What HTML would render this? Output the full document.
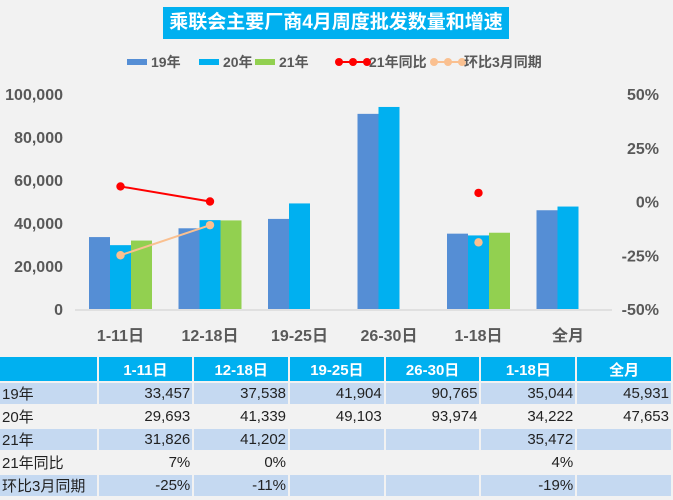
<!DOCTYPE html>
<html><head><meta charset="utf-8"><style>
body{margin:0;width:673px;height:500px;background:#f2f2f2;font-family:"Liberation Sans","Noto Sans CJK SC",sans-serif;overflow:hidden;position:relative}
#title{position:absolute;left:163px;top:7px;width:346px;height:32px;background:#00b0f0;color:#fff;font-weight:bold;font-size:19px;line-height:32px;text-align:center;white-space:nowrap}
table{position:absolute;left:0;top:355px;border-collapse:separate;border-spacing:2px;margin-left:-2px;font-size:15px}
td{height:21px;padding:0 2px;text-align:right;background:#c5d9f1;color:#222}
tr.w td{background:#f2f2f2}
tr.h td{background:#00b0f0;color:#fff;font-weight:bold;text-align:center;height:24px}
td.l{text-align:left;width:93px}
td.c{width:90px}
</style></head><body>
<div id="title">乘联会主要厂商4月周度批发数量和增速</div>
<svg id="chart" width="673" height="355" style="position:absolute;left:0;top:0"></svg>
<table>
<tr class="h"><td class="l"></td><td class="c">1-11日</td><td class="c">12-18日</td><td class="c">19-25日</td><td class="c">26-30日</td><td class="c">1-18日</td><td class="c">全月</td></tr>
<tr><td class="l">19年</td><td>33,457</td><td>37,538</td><td>41,904</td><td>90,765</td><td>35,044</td><td>45,931</td></tr>
<tr class="w"><td class="l">20年</td><td>29,693</td><td>41,339</td><td>49,103</td><td>93,974</td><td>34,222</td><td>47,653</td></tr>
<tr><td class="l">21年</td><td>31,826</td><td>41,202</td><td></td><td></td><td>35,472</td><td></td></tr>
<tr class="w"><td class="l">21年同比</td><td>7%</td><td>0%</td><td></td><td></td><td>4%</td><td></td></tr>
<tr><td class="l">环比3月同期</td><td>-25%</td><td>-11%</td><td></td><td></td><td>-19%</td><td></td></tr>
</table>
<script>
const categories=["1-11日","12-18日","19-25日","26-30日","1-18日","全月"];
const s19=[33457,37538,41904,90765,35044,45931];
const s20=[29693,41339,49103,93974,34222,47653];
const s21=[31826,41202,null,null,35472,null];
const yoy21=[7,0,null,null,4,null];
const mom=[-25,-11,null,null,-19,null];
const leftTicks=["0","20,000","40,000","60,000","80,000","100,000"];
const rightTicks=["-50%","-25%","0%","25%","50%"];
const NS="http://www.w3.org/2000/svg";
const svg=document.getElementById('chart');
const yL=v=>309-v/100000*215;
const yR=v=>201.5-v/50*107.5;
const xC=i=>120.5+i*89.5;
function el(t,a,p){const e=document.createElementNS(NS,t);for(const k in a)e.setAttribute(k,a[k]);(p||svg).appendChild(e);return e;}
const ax=el('line',{x1:75,x2:612,y1:310,y2:310,stroke:'#d9d9d9','stroke-width':1.5});

leftTicks.forEach((t,i)=>{const e=el('text',{x:63,y:yL(i*20000)+6,'text-anchor':'end','font-size':16,'font-weight':'bold',fill:'#595959'});e.textContent=t;
});
rightTicks.forEach((t,i)=>{const e=el('text',{x:659,y:yR(-50+i*25)+6,'text-anchor':'end','font-size':16,'font-weight':'bold',fill:'#595959'});e.textContent=t;
});
categories.forEach((c,i)=>{const e=el('text',{x:xC(i),y:341,'text-anchor':'middle','font-size':16,'font-weight':'bold',fill:'#595959'});e.textContent=c;
});
const series=[[s19,'#558ed5','bar-19'],[s20,'#00b0f0','bar-20'],[s21,'#92d050','bar-21']];
series.forEach(([arr,col,nm],k)=>arr.forEach((v,i)=>{if(v==null)return;const x=xC(i)-31.5+k*21;
const r=el('rect',{x:x,y:yL(v),width:21,height:309-yL(v),fill:col});
}));
function line(arr,col,nm){let pts=[];arr.forEach((v,i)=>{if(v==null){draw();return;}pts.push([xC(i),yR(v)]);});draw();
function draw(){if(pts.length>1){const p=el('polyline',{points:pts.map(q=>q.join(',')).join(' '),fill:'none',stroke:col,'stroke-width':2});}pts=[];}
arr.forEach((v,i)=>{if(v==null)return;const c=el('circle',{cx:xC(i),cy:yR(v),r:4.2,fill:col});});}
line(yoy21,'#ff0000','yoy21');
line(mom,'#fac090','mom');
const lg=el('g',{});
const legs=[[127,'#558ed5','19年','b'],[199,'#00b0f0','20年','b'],[255,'#92d050','21年','b'],[342,'#ff0000','21年同比','l'],[437,'#fac090','环比3月同期','l']];
legs.forEach(([x,col,t,ty])=>{if(ty=='b'){el('rect',{x:x,y:59,width:20,height:6,fill:col},lg);}else{el('line',{x1:x-3,x2:x+25,y1:62,y2:62,stroke:col,'stroke-width':2},lg);[x-3,x+11,x+25].forEach(cx=>el('circle',{cx:cx,cy:62,r:4,fill:col},lg));}
const e=el('text',{x:ty=='b'?x+24:x+27,y:67,'font-size':14,'font-weight':'bold',fill:'#595959'},lg);e.textContent=t;
});
</script>
</body></html>
